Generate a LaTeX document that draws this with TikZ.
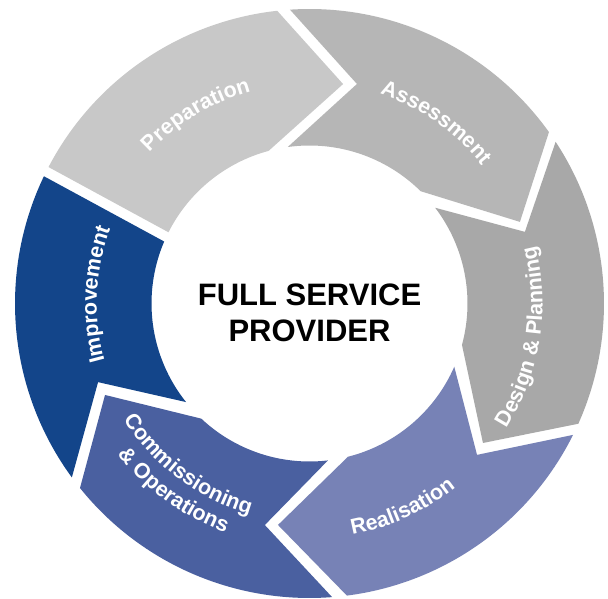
\documentclass[tikz,border=0pt]{standalone}
\usepackage{fontspec}
\setmainfont{Liberation Sans}
\usetikzlibrary{decorations.text}
\definecolor{cprep}{RGB}{200,200,200}
\definecolor{cass}{RGB}{182,182,182}
\definecolor{cdes}{RGB}{168,168,168}
\definecolor{creal}{RGB}{119,130,182}
\definecolor{ccomm}{RGB}{74,96,160}
\definecolor{cimp}{RGB}{19,69,138}
\newcommand\lblfont{\fontsize{21.5}{25}\selectfont\bfseries}
\begin{document}
\begin{tikzpicture}[x=1pt,y=1pt,
  lbl/.style={decorate, decoration={text along path, text align=center, text color=white}},
  title/.style={align=center, font=\fontsize{31}{35.5}\selectfont\bfseries, text=black}]
\def\Ro{294.5}
\def\Ri{158}
\fill[white] (-309.5,-295.5) rectangle (298.5,303.5);
\useasboundingbox (-309.5,-295.5) rectangle (298.5,303.5);
% Preparation
\fill[cprep] (152.4:\Ro) arc[start angle=152.4, end angle=96.3, radius=\Ro]
  -- (81.3:222) -- (105:\Ri) arc[start angle=105, end angle=153.2, radius=\Ri] -- cycle;
% Assessment
\fill[cass] (93.8:\Ro) arc[start angle=93.8, end angle=35.6, radius=\Ro]
  -- (21.2:225.7) -- (45.3:\Ri) arc[start angle=45.3, end angle=97.9, radius=\Ri]
  -- (77.8:224.6) -- cycle;
% Design & Planning
\fill[cdes] (33.3:\Ro) arc[start angle=33.3, end angle=-24.1, radius=\Ro]
  -- (-38.8:222.6) -- (-15.2:\Ri) arc[start angle=-15.2, end angle=37.3, radius=\Ri]
  -- (18.4:227) -- cycle;
% Realisation
\fill[creal] (-26.5:\Ro) arc[start angle=-26.5, end angle=-82.7, radius=\Ro]
  -- (-98.1:223.7) -- (-75.9:\Ri) arc[start angle=-75.9, end angle=-23.6, radius=\Ri]
  -- (-42.1:225.8) -- cycle;
% Commissioning & Operations
\fill[ccomm] (-85.6:\Ro) arc[start angle=-85.6, end angle=-141.2, radius=\Ro]
  -- (-155.9:224) -- (-133.2:\Ri) arc[start angle=-133.2, end angle=-83.3, radius=\Ri]
  -- (-101.4:226) -- cycle;
% Improvement
\fill[cimp] (-143.8:\Ro) arc[start angle=-143.8, end angle=-205.6, radius=\Ro]
  -- (-203.1:\Ri) arc[start angle=-203.1, end angle=-141.4, radius=\Ri]
  -- (-159.6:225.6) -- cycle;
% labels
\path[lbl, decoration={text={|\lblfont|Preparation}}]
  (165:220) arc[start angle=165, end angle=77, radius=220];
\path[lbl, decoration={text={|\lblfont|Assessment}}]
  (99:221) arc[start angle=99, end angle=11, radius=221];
\path[lbl, decoration={text={|\lblfont|Design {\&} Planning}}]
  (-59:233) arc[start angle=-59, end angle=41, radius=233];
\path[lbl, decoration={text={|\lblfont|Realisation}}]
  (-105:235) arc[start angle=-105, end angle=-26, radius=235];
\path[lbl, decoration={text={|\lblfont|Commissioning}}]
  (-172:219) arc[start angle=-172, end angle=-82, radius=219];
\path[lbl, decoration={text={|\lblfont|{\&} Operations}}]
  (-171:244) arc[start angle=-171, end angle=-81, radius=244];
\path[lbl, decoration={text={|\lblfont|Improvement}}]
  (222:212.8) arc[start angle=222, end angle=133, radius=212.8];
% centre
\node[title] (centre) at (0,-9.5) {FULL SERVICE\\PROVIDER};
\end{tikzpicture}
\end{document}
